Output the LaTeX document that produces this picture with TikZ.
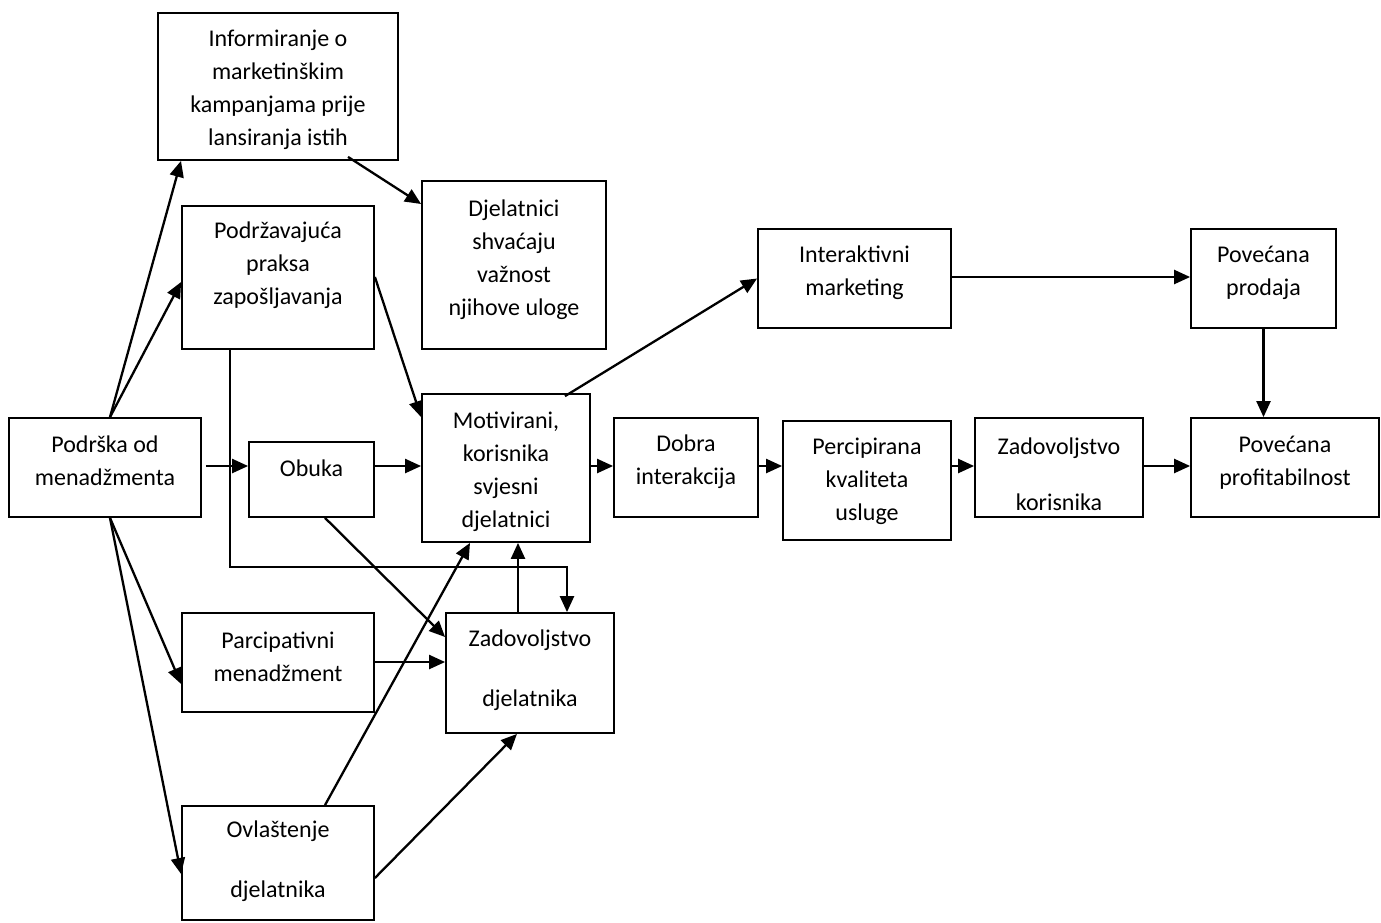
\documentclass[tikz,border=0pt]{standalone}
\usepackage{fontspec}
\setmainfont{Carlito}
\usetikzlibrary{arrows.meta,calc}
\begin{document}
\begin{tikzpicture}[x=1pt,y=-1pt,
 box/.style={draw,line width=1.8pt,rectangle,inner sep=0pt},
 txt/.style={align=center,inner sep=0pt,font=\fontsize{24}{33}\selectfont},
 arr/.style={line width=2.3pt,-{Triangle[length=16pt,width=14pt]}},
 ln/.style={line width=2.3pt}]
\useasboundingbox[fill=white] (0,0) rectangle (1381,922);

% boxes
\node[box,minimum width=240pt,minimum height=147pt] (inf) at (278,86.5) {};
\node[box,minimum width=192pt,minimum height=143pt] (podr) at (278,277.5) {};
\node[box,minimum width=184pt,minimum height=168pt] (shv) at (514,265) {};
\node[box,minimum width=192pt,minimum height=99pt] (pod) at (105,467.5) {};
\node[box,minimum width=125pt,minimum height=75pt] (obu) at (311.5,479.5) {};
\node[box,minimum width=168pt,minimum height=148pt] (mot) at (506,468) {};
\node[box,minimum width=192pt,minimum height=99pt] (par) at (278,662.5) {};
\node[box,minimum width=192pt,minimum height=114pt] (ovl) at (278,863) {};
\node[box,minimum width=168pt,minimum height=120pt] (zdj) at (530,673) {};
\node[box,minimum width=144pt,minimum height=99pt] (dob) at (686,467.5) {};
\node[box,minimum width=168pt,minimum height=119pt] (per) at (867,480.5) {};
\node[box,minimum width=168pt,minimum height=99pt] (zko) at (1059,467.5) {};
\node[box,minimum width=188pt,minimum height=99pt] (prof) at (1285,467.5) {};
\node[box,minimum width=193pt,minimum height=99pt] (int) at (854.5,278.5) {};
\node[box,minimum width=145pt,minimum height=99pt] (prod) at (1263.5,278.5) {};

% texts
\node[txt] (infT) at ($(inf.center)+(0,3.5)$) {Informiranje o\\marketinškim\\kampanjama prije\\lansiranja istih};
\node[txt] (podrT) at ($(podr.center)+(0,-12.5)$) {Podržavajuća\\praksa\\zapošljavanja};
\node[txt] (shvT) at ($(shv.center)+(0,-5)$) {Djelatnici\\shvaćaju\\važnost\\njihove uloge};
\node[txt] (podT) at ($(pod.center)+(0,-6.5)$) {Podrška od\\menadžmenta};
\node[txt] (obuT) at ($(obu.center)+(0,-11.5)$) {Obuka};
\node[txt] (motT) at ($(mot.center)+(0,4)$) {Motivirani,\\korisnika\\svjesni\\djelatnici};
\node[txt] (parT) at ($(par.center)+(0,-6)$) {Parcipativni\\menadžment};
\node[txt] (ovlT) at ($(ovl.center)+(0,-1.5)$) {Ovlaštenje\\[27pt]djelatnika};
\node[txt] (zdjT) at ($(zdj.center)+(0,-3)$) {Zadovoljstvo\\[27pt]djelatnika};
\node[txt] (dobT) at ($(dob.center)+(0,-6)$) {Dobra\\interakcija};
\node[txt] (perT) at ($(per.center)+(0,0.5)$) {Percipirana\\kvaliteta\\usluge};
\node[txt] (zkoT) at ($(zko.center)+(0,6.5)$) {Zadovoljstvo\\[23pt]korisnika};
\node[txt] (profT) at ($(prof.center)+(0,-5)$) {Povećana\\profitabilnost};
\node[txt] (intT) at ($(int.center)+(0,-5.5)$) {Interaktivni\\marketing};
\node[txt] (prodT) at ($(prod.center)+(0,-5.5)$) {Povećana\\prodaja};

% connectors
\draw[arr] ($(pod.north)+(5,0)$) -- ($(inf.south)+(-97,0)$);
\draw[arr] ($(pod.north)+(5,0)$) -- ($(podr.west)+(0,4.5)$);
\draw[arr] ($(pod.east)+(4,-1.5)$) -- ($(obu.west)+(0,-13.5)$);
\draw[arr] ($(obu.east)+(0,-13.5)$) -- ($(mot.west)+(0,-2)$);
\draw[arr] ($(pod.south)+(5,0)$) -- ($(par.west)+(0,21.5)$);
\draw[arr] ($(pod.south)+(5,0)$) -- ($(ovl.west)+(0,11)$);
\draw[arr] ($(podr.east)+(0,-0.5)$) -- ($(mot.north west)+(0,24)$);
\draw[arr] ($(podr.south)+(-48,0)$) -- ++(0,217) -| ($(zdj.north)+(37,0)$);
\draw[arr] ($(inf.south)+(70,-4)$) -- ($(shv.west)+(0,-61)$);
\draw[arr] ($(obu.south)+(13.5,0)$) -- ($(zdj.west)+(0,-36)$);
\draw[arr] ($(par.east)+(0,-0.5)$) -- ($(zdj.west)+(0,-11)$);
\draw[arr] ($(ovl.north)+(47,0)$) -- ($(mot.south)+(-36,0)$);
\draw[arr] ($(ovl.east)+(0,15)$) -- ($(zdj.south)+(-13,0)$);
\draw[arr] ($(zdj.north)+(-12,0)$) -- ($(mot.south)+(12,0)$);
\draw[arr] ($(mot.north)+(59,3)$) -- (int.west);
\draw[arr] ($(int.east)+(0,-1.5)$) -- ($(prod.west)+(0,-1.5)$);
\draw[arr] (prod.south) -- (prod.south |- prof.north);
\draw[arr] ($(mot.east)+(0,-2)$) -- ($(dob.west)+(0,-1.5)$);
\draw[arr] ($(dob.east)+(0,-1.5)$) -- ($(dob.east -| per.west)+(0,-1.5)$);
\draw[arr] ($(per.east |- zko.west)+(0,-1.5)$) -- ($(zko.west)+(0,-1.5)$);
\draw[arr] ($(zko.east)+(0,-1.5)$) -- ($(prof.west)+(0,-1.5)$);
\end{tikzpicture}
\end{document}
